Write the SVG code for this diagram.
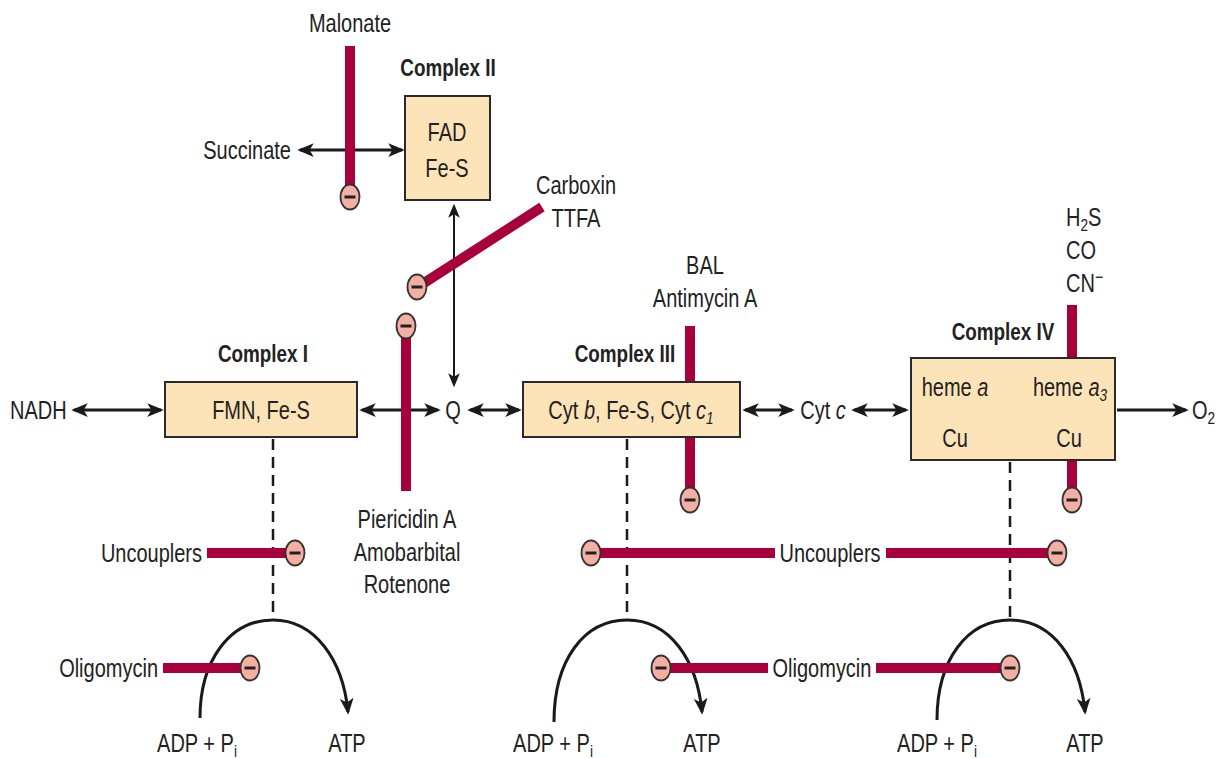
<svg xmlns="http://www.w3.org/2000/svg" width="1222" height="758" viewBox="0 0 1222 758">
<style>
text{font-family:"Liberation Sans",Arial,sans-serif;font-size:25px;fill:#222;}
.b{font-weight:bold;font-size:23px;}
.m{text-anchor:middle;}
.e{text-anchor:end;}
.box{fill:#FDE4B8;stroke:#2a2a2a;stroke-width:2;}
.arr{stroke:#1a1a1a;stroke-width:3;fill:none;marker-end:url(#ah);}
.dbl{stroke:#1a1a1a;stroke-width:3;fill:none;marker-end:url(#ah);marker-start:url(#ah);}
.thin{stroke:#1a1a1a;stroke-width:2;fill:none;marker-end:url(#ah2);marker-start:url(#ah2);}
.bar{stroke:#A8003A;stroke-width:10;fill:none;}
.dash{stroke:#1a1a1a;stroke-width:2.5;stroke-dasharray:11,7;fill:none;}
.inh ellipse{fill:#F4AFA3;stroke:#333;stroke-width:1.8;}
.inh line{stroke:#222;stroke-width:3;}
</style>
<defs>
<marker id="ah" viewBox="0 0 12 10" refX="10" refY="5" markerWidth="5.5" markerHeight="5.5" orient="auto-start-reverse" markerUnits="strokeWidth">
<path d="M0,0 L12,5 L0,10 L3,5 z" fill="#1a1a1a"/>
</marker>
<marker id="ah2" viewBox="0 0 12 10" refX="10" refY="5" markerWidth="7" markerHeight="7" orient="auto-start-reverse" markerUnits="strokeWidth">
<path d="M0,0 L12,5 L0,10 L3,5 z" fill="#1a1a1a"/>
</marker>
<g id="minus" class="inh"><ellipse cx="0" cy="0" rx="9.5" ry="12.5"/><line x1="-5.5" y1="0" x2="5.5" y2="0"/></g>
</defs>

<g id="connectors">
<line class="dbl" x1="300" y1="150" x2="402" y2="150"/>
<line class="thin" x1="454" y1="206" x2="454" y2="385"/>
<line class="dbl" x1="74" y1="410" x2="161" y2="410"/>
<line class="dbl" x1="362" y1="410" x2="438" y2="410"/>
<line class="dbl" x1="470" y1="410" x2="519" y2="410"/>
<line class="dbl" x1="745" y1="410" x2="792" y2="410"/>
<line class="dbl" x1="854" y1="410" x2="906" y2="410"/>
<line class="arr" x1="1117" y1="410" x2="1186" y2="410"/>
<line class="dash" x1="273" y1="439" x2="273" y2="620"/>
<line class="dash" x1="627" y1="439" x2="627" y2="620"/>
<line class="dash" x1="1010" y1="462" x2="1010" y2="620"/>
<path class="arr" d="M200,718 C200,660 230,620 273,620 C315,620 343,660 348,712"/>
<path class="arr" d="M554,722 C554,660 584,620 627,620 C670,620 697,660 702,712"/>
<path class="arr" d="M937,720 C937,660 967,620 1010,620 C1053,620 1080,660 1085,712"/>
</g>

<g id="inhibitors">
<line class="bar" x1="350" y1="46" x2="350" y2="188"/>
<use href="#minus" x="350" y="197"/>
<line class="bar" x1="542" y1="207" x2="424" y2="283"/>
<use href="#minus" x="417" y="287"/>
<line class="bar" x1="406" y1="337" x2="406" y2="491"/>
<use href="#minus" x="406" y="326"/>
<line class="bar" x1="690" y1="326" x2="690" y2="490"/>
<use href="#minus" x="690" y="500"/>
<line class="bar" x1="1072" y1="305" x2="1072" y2="490"/>
<use href="#minus" x="1072" y="500"/>
<line class="bar" x1="207" y1="553" x2="290" y2="553"/>
<use href="#minus" x="295" y="553"/>
<line class="bar" x1="597" y1="553" x2="775" y2="553"/>
<use href="#minus" x="591" y="553"/>
<line class="bar" x1="886" y1="553" x2="1052" y2="553"/>
<use href="#minus" x="1057" y="553"/>
<line class="bar" x1="163" y1="668" x2="245" y2="668"/>
<use href="#minus" x="250" y="668"/>
<line class="bar" x1="667" y1="668" x2="768" y2="668"/>
<use href="#minus" x="661" y="668"/>
<line class="bar" x1="876" y1="668" x2="1004" y2="668"/>
<use href="#minus" x="1010" y="668"/>
</g>

<g id="complex2">
<rect class="box" x="405" y="96" width="85" height="104"/>
<text class="b m" transform="translate(448,76) scale(0.82,1)">Complex II</text>
<text class="m" transform="translate(447,141) scale(0.8,1)">FAD</text>
<text class="m" transform="translate(447,177) scale(0.8,1)">Fe-S</text>
</g>
<g id="complex1">
<rect class="box" x="165" y="382" width="192" height="55"/>
<text class="b m" transform="translate(263,362) scale(0.82,1)">Complex I</text>
<text class="m" transform="translate(261,419) scale(0.8,1)">FMN, Fe-S</text>
</g>
<g id="complex3">
<rect class="box" x="523" y="382" width="217" height="55"/>
<text class="b m" transform="translate(625,362) scale(0.82,1)">Complex III</text>
<text class="m" transform="translate(631,419) scale(0.8,1)">Cyt <tspan font-style="italic">b</tspan>, Fe-S, Cyt <tspan font-style="italic">c</tspan><tspan font-style="italic" font-size="17" dy="5">1</tspan></text>
</g>
<g id="complex4">
<rect class="box" x="911" y="358" width="204" height="102"/>
<text class="b m" transform="translate(1003,340) scale(0.82,1)">Complex IV</text>
<text class="m" transform="translate(955,396) scale(0.8,1)">heme <tspan font-style="italic">a</tspan></text>
<text class="m" transform="translate(1070,396) scale(0.8,1)">heme <tspan font-style="italic">a</tspan><tspan font-style="italic" font-size="17" dy="5">3</tspan></text>
<text class="m" transform="translate(955,447) scale(0.8,1)">Cu</text>
<text class="m" transform="translate(1069,447) scale(0.8,1)">Cu</text>
</g>

<g id="labels">
<text class="m" transform="translate(350,32) scale(0.8,1)">Malonate</text>
<text class="e" transform="translate(291,159) scale(0.8,1)">Succinate</text>
<text class="m" transform="translate(576,194) scale(0.8,1)">Carboxin</text>
<text class="m" transform="translate(576,227) scale(0.8,1)">TTFA</text>
<text class="m" transform="translate(705,274) scale(0.8,1)">BAL</text>
<text class="m" transform="translate(705,307) scale(0.8,1)">Antimycin A</text>
<text transform="translate(1066,226) scale(0.8,1)">H<tspan font-size="17" dy="5">2</tspan><tspan dy="-5">S</tspan></text>
<text transform="translate(1066,259) scale(0.8,1)">CO</text>
<text transform="translate(1066,292) scale(0.8,1)">CN<tspan dy="-9" font-size="18">−</tspan></text>
<text transform="translate(10,419) scale(0.8,1)">NADH</text>
<text class="m" transform="translate(453,419) scale(0.8,1)">Q</text>
<text class="m" transform="translate(823,419) scale(0.8,1)">Cyt <tspan font-style="italic">c</tspan></text>
<text transform="translate(1192,419) scale(0.8,1)">O<tspan font-size="17" dy="5">2</tspan></text>
<text class="m" transform="translate(407,528) scale(0.8,1)">Piericidin A</text>
<text class="m" transform="translate(407,561) scale(0.8,1)">Amobarbital</text>
<text class="m" transform="translate(407,593) scale(0.8,1)">Rotenone</text>
<text class="e" transform="translate(202,562) scale(0.8,1)">Uncouplers</text>
<text class="m" transform="translate(830,562) scale(0.8,1)">Uncouplers</text>
<text class="e" transform="translate(158,677) scale(0.8,1)">Oligomycin</text>
<text class="m" transform="translate(822,677) scale(0.8,1)">Oligomycin</text>
<text class="m" transform="translate(197,752) scale(0.8,1)">ADP + P<tspan font-size="17" dy="5">i</tspan></text>
<text class="m" transform="translate(347,752) scale(0.8,1)">ATP</text>
<text class="m" transform="translate(553,752) scale(0.8,1)">ADP + P<tspan font-size="17" dy="5">i</tspan></text>
<text class="m" transform="translate(702,752) scale(0.8,1)">ATP</text>
<text class="m" transform="translate(937,752) scale(0.8,1)">ADP + P<tspan font-size="17" dy="5">i</tspan></text>
<text class="m" transform="translate(1085,752) scale(0.8,1)">ATP</text>
</g>
</svg>
